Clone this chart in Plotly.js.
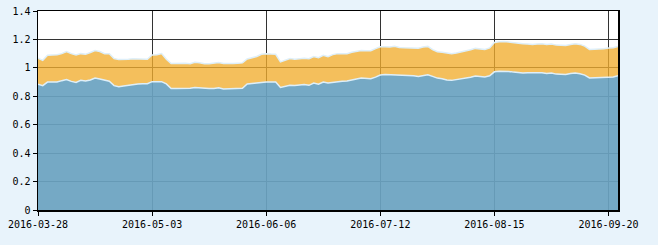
<!DOCTYPE html>
<html>
<head>
<meta charset="utf-8">
<script src="https://cdn.plot.ly/plotly-3.0.1.min.js"></script>
<style>
html,body{margin:0;padding:0;background:#e8f3fb;}
#chart{width:658px;height:245px;}
</style>
</head>
<body>
<div id="chart"></div>
<script>
// Trading dates (category axis)
var dates = [
"2016-03-28","2016-03-29","2016-03-30","2016-03-31","2016-04-01",
"2016-04-05","2016-04-06","2016-04-07","2016-04-08",
"2016-04-11","2016-04-12","2016-04-13","2016-04-14","2016-04-15",
"2016-04-18","2016-04-19","2016-04-20","2016-04-21","2016-04-22",
"2016-04-25","2016-04-26","2016-04-27","2016-04-28","2016-04-29",
"2016-05-03","2016-05-04","2016-05-05","2016-05-06",
"2016-05-09","2016-05-10","2016-05-11","2016-05-12","2016-05-13",
"2016-05-16","2016-05-17","2016-05-18","2016-05-19","2016-05-20",
"2016-05-23","2016-05-24","2016-05-25","2016-05-26","2016-05-27",
"2016-05-30","2016-05-31","2016-06-01","2016-06-02","2016-06-03",
"2016-06-06","2016-06-07","2016-06-08",
"2016-06-13","2016-06-14","2016-06-15","2016-06-16","2016-06-17",
"2016-06-20","2016-06-21","2016-06-22","2016-06-23","2016-06-24",
"2016-06-27","2016-06-28","2016-06-29","2016-06-30","2016-07-01",
"2016-07-04","2016-07-05","2016-07-06","2016-07-07","2016-07-08",
"2016-07-11","2016-07-12","2016-07-13","2016-07-14","2016-07-15",
"2016-07-18","2016-07-19","2016-07-20","2016-07-21","2016-07-22",
"2016-07-25","2016-07-26","2016-07-27","2016-07-28","2016-07-29",
"2016-08-01","2016-08-02","2016-08-03","2016-08-04","2016-08-05",
"2016-08-08","2016-08-09","2016-08-10","2016-08-11","2016-08-12",
"2016-08-15","2016-08-16","2016-08-17","2016-08-18","2016-08-19",
"2016-08-22","2016-08-23","2016-08-24","2016-08-25","2016-08-26",
"2016-08-29","2016-08-30","2016-08-31","2016-09-01","2016-09-02",
"2016-09-05","2016-09-06","2016-09-07","2016-09-08","2016-09-09",
"2016-09-12","2016-09-13","2016-09-14",
"2016-09-19","2016-09-20","2016-09-21","2016-09-22"
];

// Lower series (blue)
var lowerValues = [
0.885,0.875,0.900,0.898,0.900,0.910,0.918,0.905,0.897,0.912,
0.907,0.915,0.928,0.922,0.912,0.906,0.875,0.868,0.872,0.878,
0.882,0.886,0.888,0.889,0.903,0.903,0.903,0.887,0.855,0.854,
0.854,0.855,0.856,0.861,0.858,0.854,0.854,0.855,0.860,0.852,
0.852,0.853,0.853,0.856,0.887,0.890,0.893,0.900,0.900,0.900,
0.900,0.862,0.868,0.877,0.876,0.877,0.883,0.877,0.893,0.885,
0.900,0.893,0.898,0.905,0.906,0.907,0.912,0.922,0.928,0.926,
0.924,0.935,0.950,0.954,0.953,0.952,0.950,0.948,0.947,0.944,
0.940,0.946,0.952,0.940,0.928,0.924,0.914,0.912,0.917,0.921,
0.926,0.934,0.943,0.938,0.936,0.944,0.972,0.976,0.977,0.975,
0.970,0.965,0.963,0.965,0.966,0.966,0.966,0.960,0.963,0.956,
0.954,0.954,0.960,0.963,0.958,0.949,0.929,0.930,0.931,0.934,
0.936,0.936,0.945
];

// Upper series (orange)
var upperValues = [
1.068,1.053,1.088,1.090,1.092,1.100,1.114,1.100,1.090,1.100,
1.095,1.108,1.122,1.115,1.100,1.100,1.066,1.058,1.057,1.060,
1.064,1.064,1.060,1.060,1.090,1.092,1.100,1.060,1.031,1.033,
1.033,1.033,1.029,1.039,1.036,1.029,1.029,1.033,1.038,1.030,
1.029,1.031,1.033,1.035,1.062,1.069,1.080,1.096,1.100,1.097,
1.095,1.042,1.052,1.065,1.060,1.066,1.068,1.064,1.080,1.071,
1.088,1.078,1.093,1.100,1.100,1.100,1.110,1.118,1.122,1.120,
1.120,1.135,1.148,1.148,1.147,1.152,1.143,1.141,1.141,1.140,
1.138,1.146,1.151,1.128,1.113,1.109,1.103,1.100,1.104,1.110,
1.117,1.127,1.137,1.132,1.130,1.140,1.178,1.183,1.186,1.182,
1.178,1.170,1.170,1.168,1.165,1.168,1.170,1.164,1.167,1.160,
1.158,1.158,1.165,1.170,1.165,1.153,1.130,1.131,1.133,1.135,
1.140,1.141,1.150
];

var tickLabels = ["2016-03-28","2016-05-03","2016-06-06","2016-07-12","2016-08-15","2016-09-20"];

var edge = {color:'#deeff9', width:1.5, shape:'linear'};

var traces = [
  {
    x: dates, y: lowerValues, type:'scatter', mode:'lines',
    fill:'tozeroy', fillcolor:'rgba(106,162,193,0.93)',
    line: edge, hoverinfo:'skip', showlegend:false
  },
  {
    x: dates, y: upperValues, type:'scatter', mode:'lines',
    fill:'tonexty', fillcolor:'rgba(241,173,46,0.78)',
    line: edge, hoverinfo:'skip', showlegend:false
  }
];

var font = {family:'"DejaVu Sans Mono", monospace', size:10, color:'#000'};

var layout = {
  width:658, height:245,
  margin:{l:38, r:40, t:11, b:35, pad:0},
  paper_bgcolor:'#e8f3fb',
  plot_bgcolor:'#ffffff',
  showlegend:false,
  xaxis:{
    type:'category',
    range:[0, dates.length-1],
    tickmode:'array', tickvals: tickLabels, ticktext: tickLabels,
    ticks:'outside', ticklen:4, tickcolor:'#000', tickwidth:1,
    showgrid:true, gridcolor:'#333333', gridwidth:1,
    showline:true, linecolor:'#000', linewidth:1.5, mirror:true,
    zeroline:false,
    tickfont: font, tickangle:0, automargin:false
  },
  yaxis:{
    range:[0,1.4], dtick:0.2, tick0:0,
    ticks:'outside', ticklen:4, tickcolor:'#000', tickwidth:1,
    showgrid:true, gridcolor:'#333333', gridwidth:1,
    showline:true, linecolor:'#000', linewidth:1.5, mirror:true,
    zeroline:false,
    tickfont: font, automargin:false
  }
};

Plotly.newPlot('chart', traces, layout, {displayModeBar:false, staticPlot:true});
</script>
</body>
</html>
